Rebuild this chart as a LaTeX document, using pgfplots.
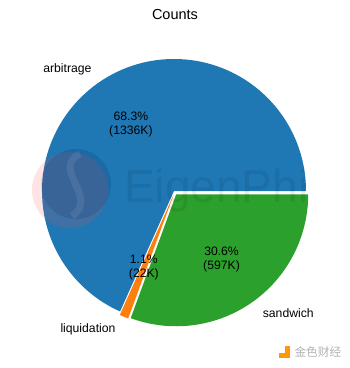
\documentclass[border=0pt]{standalone}
\usepackage{pgfplots}
\usepackage{pgfplotstable}
\usepackage{fontspec}
\usetikzlibrary{calc}
\pgfplotsset{compat=1.18}
\setmainfont{Liberation Sans}
\newfontfamily\cjk{Noto Sans CJK SC}

\definecolor{tabblue}{HTML}{1F77B4}
\definecolor{taborange}{HTML}{FF7F0E}
\definecolor{tabgreen}{HTML}{2CA02C}

% share of each category (percent) and count in thousands
\pgfplotstableread{
name        pct   count
arbitrage   68.3  1336
liquidation 1.1   22
sandwich    30.6  597
}\pietable

\pgfplotstablegetelem{0}{pct}\of\pietable \let\pA\pgfplotsretval
\pgfplotstablegetelem{1}{pct}\of\pietable \let\pB\pgfplotsretval
\pgfplotstablegetelem{2}{pct}\of\pietable \let\pC\pgfplotsretval
\pgfplotstablegetelem{0}{count}\of\pietable \let\cA\pgfplotsretval
\pgfplotstablegetelem{1}{count}\of\pietable \let\cB\pgfplotsretval
\pgfplotstablegetelem{2}{count}\of\pietable \let\cC\pgfplotsretval

% wedge angles, counter-clockwise from 0 degrees
\pgfmathsetmacro{\aA}{0}
\pgfmathsetmacro{\aB}{3.6*\pA}
\pgfmathsetmacro{\aC}{3.6*(\pA+\pB)}
\pgfmathsetmacro{\aD}{3.6*(\pA+\pB+\pC)}
\pgfmathsetmacro{\mA}{(\aA+\aB)/2}
\pgfmathsetmacro{\mB}{(\aB+\aC)/2}
\pgfmathsetmacro{\mC}{(\aC+\aD)/2}

\def\R{132pt}
\def\Rlab{145.2pt}
\def\Rpct{79.2pt}
\def\exA{1.3pt}
\def\ex{2.64pt}
\def\C{axis cs:174.7,175.9}
\newcommand\lab{\fontsize{12.2}{14}\selectfont}

\begin{document}
\begin{tikzpicture}
\begin{axis}[
  scale only axis, width=350pt, height=368pt,
  xmin=0, xmax=350, ymin=0, ymax=368,
  hide axis, clip=false,
]
% full canvas
\path (axis cs:0,0) rectangle (axis cs:350,368);

% wedges, each pushed out along its bisector
\fill[tabblue] ($(\C)+(\mA:\exA)$) -- ++(\aA:\R) arc[start angle=\aA, end angle=\aB, radius=\R] -- cycle;
\fill[taborange] ($(\C)+(\mB:\ex)$) -- ++(\aB:\R) arc[start angle=\aB, end angle=\aC, radius=\R] -- cycle;
\fill[tabgreen] ($(\C)+(\mC:\ex)$) -- ++(\aC:\R) arc[start angle=\aC, end angle=\aD, radius=\R] -- cycle;

% logo mark
\fill[red!70, opacity=0.15] (axis cs:70,178) circle[radius=38pt];
\fill[black!80!blue, opacity=0.10] (axis cs:76,184) circle[radius=35pt];
\draw[white, opacity=0.08, line width=7pt] (axis cs:80,214) .. controls (axis cs:50,200) and (axis cs:100,170) .. (axis cs:72,152);
\node[anchor=base west, inner sep=0pt, text=black, opacity=0.07, font=\fontsize{46}{48}\selectfont] at (axis cs:124,166) {EigenPhi};

% title
\node[font=\fontsize{14.5}{16}\selectfont] at (axis cs:175,353) {Counts};

% category labels
\node[anchor=east, font=\lab] at ($(\C)+(\mA:\exA)+(\mA:\Rlab)$) {arbitrage};
\node[anchor=east, font=\lab] at ($(\C)+(\mB:\ex)+(\mB:\Rlab)$) {liquidation};
\node[anchor=west, font=\lab] at ($(\C)+(\mC:\ex)+(\mC:\Rlab)$) {sandwich};

% percentage and count labels
\node[align=center, font=\lab] at ($(\C)+(\mA:\exA)+(\mA:\Rpct)$) {\pA\%\\(\cA K)};
\node[align=center, font=\lab] at ($(\C)+(\mB:\ex)+(\mB:\Rpct)$) {\pB\%\\(\cB K)};
\node[align=center, font=\lab] at ($(\C)+(\mC:\ex)+(\mC:\Rpct)$) {\pC\%\\(\cC K)};

% source mark
\fill[orange!80!yellow] (axis cs:279,10) rectangle (axis cs:290,22);
\fill[white] (axis cs:279,15) rectangle (axis cs:285,22);
\node[anchor=west, text=black!30, font=\cjk\fontsize{11.7}{13}\selectfont] at (axis cs:291,16) {金色财经};
\end{axis}
\end{tikzpicture}
\end{document}
